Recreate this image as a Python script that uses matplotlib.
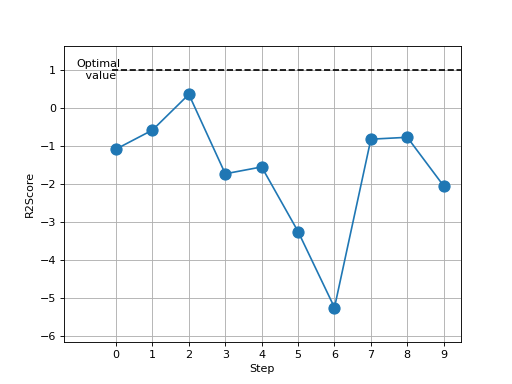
import matplotlib
matplotlib.use('Agg')
import matplotlib.pyplot as plt

steps = [0, 1, 2, 3, 4, 5, 6, 7, 8, 9]
scores = [-1.08, -0.58, 0.36, -1.73, -1.55, -3.25, -5.25, -0.82, -0.77, -2.05]
optimal = 1


def main():
    fig, ax = plt.subplots(figsize=(6.4, 4.8), dpi=80)

    ax.plot(steps, scores, marker='o', markersize=10)
    ax.hlines(optimal, -0.1, 10, colors='black', linestyles='dashed')
    ax.text(-0.48, optimal, 'Optimal\n value', ha='center', va='center')

    ax.set_xticks(steps)
    ax.set_xlim(-1.43, 9.47)
    ax.set_ylim(-6.15, 1.63)
    ax.set(xlabel='Step', ylabel='R2Score')
    ax.grid(True)

    fig.savefig('out.png', dpi=80)


if __name__ == '__main__':
    main()
